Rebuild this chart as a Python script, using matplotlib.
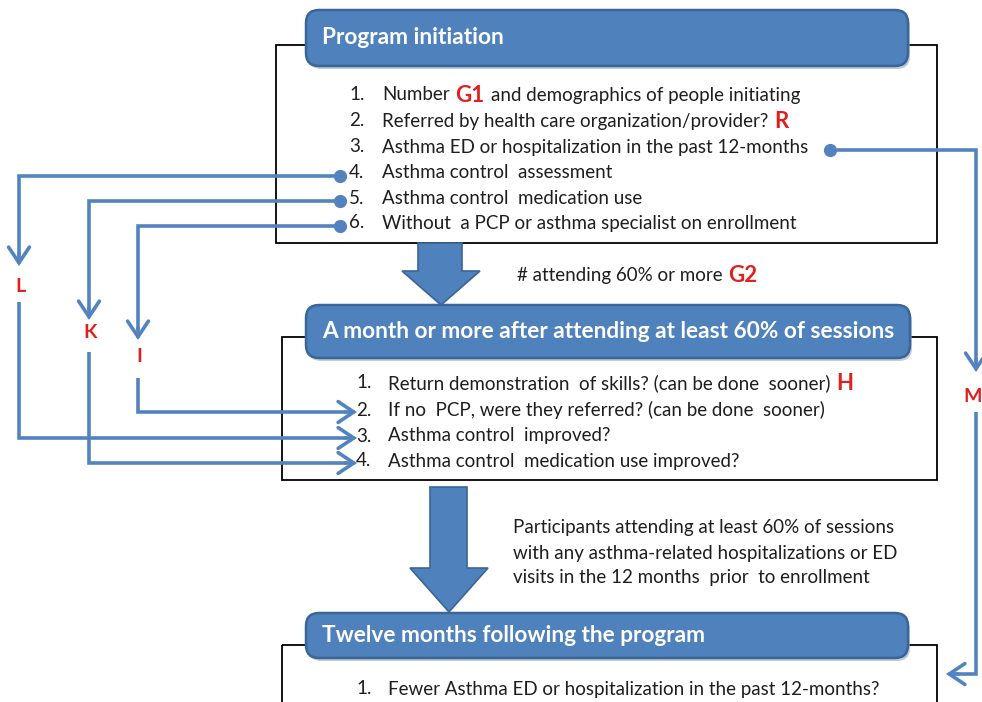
import matplotlib.pyplot as plt
from matplotlib.patches import FancyBboxPatch, Rectangle, Polygon

plt.rcParams['font.family'] = ['Lato', 'DejaVu Sans']

BLUE = '#4f81bd'
EDGE = '#3a6697'
LINE = '#5283bf'
RED = '#e0201f'
TXT = '#1e1e1e'

# stage headers
stage_titles = ['Program initiation',
                'A month or more after attending at least 60% of sessions',
                'Twelve months following the program']

# list items per stage, as (text, red marker) segments
initiation_items = [
    [('Number', False), ('G1', True), ('and demographics of people initiating', False)],
    [('Referred by health care organization/provider?', False), ('R', True)],
    [('Asthma ED or hospitalization in the past 12-months', False)],
    [('Asthma control  assessment', False)],
    [('Asthma control  medication use', False)],
    [('Without  a PCP or asthma specialist on enrollment', False)],
]
followup_items = [
    [('Return demonstration  of skills? (can be done  sooner)', False), ('H', True)],
    [('If no  PCP, were they referred? (can be done  sooner)', False)],
    [('Asthma control  improved?', False)],
    [('Asthma control  medication use improved?', False)],
]
twelve_month_items = [
    [('Fewer Asthma ED or hospitalization in the past 12-months?', False)],
]

attend_note = [('# attending 60% or more', False), ('G2', True)]
participants_note = ['Participants attending at least 60% of sessions',
                     'with any asthma-related hospitalizations or ED',
                     'visits in the 12 months  prior  to enrollment']

# connectors: label, source item (initiation), target item (followup / twelve month)
connector_labels = ['L', 'K', 'I', 'M']
connector_src = [3, 4, 5, 2]
connector_dst = [2, 3, 1, 0]

fig = plt.figure(figsize=(9.82, 7.02), dpi=100)
ax = fig.add_axes([0, 0, 1, 1])
ax.set_xlim(0, 982)
ax.set_ylim(702, 0)
ax.axis('off')
renderer = fig.canvas.get_renderer()

BODY = 13.5


def segments(x, y, parts, gap=6):
    for txt, red in parts:
        if red:
            t = ax.text(x, y + 1, txt, color=RED, fontsize=16, fontweight='bold',
                        va='center', ha='left')
        else:
            t = ax.text(x, y, txt, color=TXT, fontsize=BODY, va='center', ha='left')
        bb = t.get_window_extent(renderer)
        x = x + bb.width + gap


def stage(box, header, title, items, ys, num_x, txt_x):
    x0, y0, x1, y1 = box
    ax.add_patch(Rectangle((x0, y0), x1 - x0, y1 - y0, fill=False, ec='black', lw=1.3))
    hx0, hy0, hx1, hy1 = header
    ax.add_patch(FancyBboxPatch((hx0 + 2, hy0 + 3), hx1 - hx0, hy1 - hy0,
                                boxstyle='round,pad=0,rounding_size=13',
                                fc='#9aa9bd', ec='none', alpha=0.6))
    ax.add_patch(FancyBboxPatch((hx0, hy0), hx1 - hx0, hy1 - hy0,
                                boxstyle='round,pad=0,rounding_size=13',
                                fc=BLUE, ec=EDGE, lw=1.8))
    ax.text(hx0 + 16, (hy0 + hy1) / 2, title, color='white', fontsize=16.3,
            fontweight='bold', va='center', ha='left')
    for i, (parts, y) in enumerate(zip(items, ys)):
        ax.text(num_x, y, f'{i + 1}.', color=TXT, fontsize=BODY, va='center', ha='left')
        segments(txt_x, y, parts)


init_y = [95, 121, 147, 173, 198, 223]
follow_y = [383, 410, 436, 461]
twelve_y = [689]

stage((276, 45, 937, 243), (306, 10, 908, 66), stage_titles[0], initiation_items, init_y, 349, 382)
stage((282, 337, 937, 480), (306, 305, 910, 358), stage_titles[1], followup_items, follow_y, 356, 388)
stage((282, 645, 937, 730), (306, 613, 908, 658), stage_titles[2], twelve_month_items, twelve_y, 356, 388)

# big block arrows between stages
for sx0, sx1, top, neck, hx0, hx1, tip in [(418, 462, 243, 271, 402, 480, 305),
                                           (430, 467, 487, 568, 410, 488, 612)]:
    cx = (hx0 + hx1) / 2
    ax.add_patch(Polygon([(sx0, top), (sx1, top), (sx1, neck), (hx1, neck), (cx, tip),
                          (hx0, neck), (sx0, neck)], closed=True, fc=BLUE, ec=EDGE, lw=1.2,
                         zorder=3))

segments(517, 275, attend_note)
for line, y in zip(participants_note, [528, 553, 578]):
    ax.text(513, y, line, color=TXT, fontsize=BODY, va='center', ha='left')

# connectors
HEAD = '->,head_length=0.75,head_width=0.5'


def arrow(p0, p1):
    ax.annotate('', xy=p1, xytext=p0,
                arrowprops=dict(arrowstyle=HEAD, color=LINE, lw=2.6, mutation_scale=15,
                                shrinkA=0, shrinkB=0, joinstyle='miter'))


col_x = [19, 89, 138, 976]
tip_y = [266, 320, 340, 372]
label_y = [287, 333, 357, 397]
resume_y = [302, 352, 378, 412]
for lab, s, d, cx, ty, ly, ry in zip(connector_labels, connector_src, connector_dst,
                                     col_x, tip_y, label_y, resume_y):
    sy = init_y[s] + 3
    if lab == 'M':
        sx = 830
        dy = twelve_y[d] - 15
        ex = 946
    else:
        sx = 340
        dy = follow_y[d] + 2
        ex = 357
    ax.plot([sx], [sy], 'o', color=LINE, ms=8.5, zorder=4)
    ax.plot([sx, cx, cx], [sy, sy, ty - 10], color=LINE, lw=2.6,
            solid_joinstyle='miter', solid_capstyle='butt')
    arrow((cx, ty - 12), (cx, ty))
    ax.text(cx + (-3 if lab == 'M' else 1), ly, lab, color=RED, fontsize=14,
            fontweight='bold', va='center', ha='center')
    ax.plot([cx, cx, ex + (10 if lab == 'M' else -10)], [ry, dy, dy], color=LINE, lw=2.6,
            solid_joinstyle='miter', solid_capstyle='butt')
    arrow((ex + (12 if lab == 'M' else -12), dy), (ex, dy))

fig.savefig('out.png', dpi=100, facecolor='white')
